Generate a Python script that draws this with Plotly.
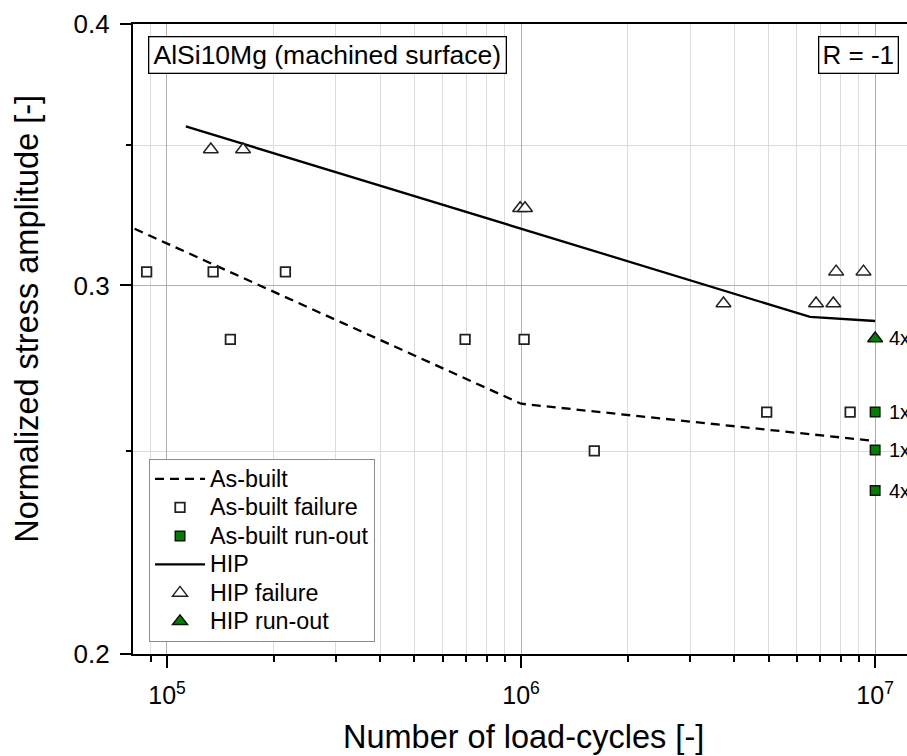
import math
import plotly.graph_objects as go

FONT = "Liberation Sans, Arial, sans-serif"

# ---- data ----
asbuilt_curve_n = [8.1e4, 1.0e6, 1.0e7]
asbuilt_curve_s = [0.3193, 0.2634, 0.2528]

hip_curve_n = [1.13e5, 6.55e6, 1.0e7]
hip_curve_s = [0.3574, 0.2898, 0.2885]

asbuilt_fail_n = [8.76e4, 1.35e5, 2.16e5, 1.51e5, 6.95e5, 1.02e6, 1.61e6, 4.94e6, 8.5e6]
asbuilt_fail_s = [0.3045, 0.3045, 0.3045, 0.2827, 0.2827, 0.2827, 0.2501, 0.2610, 0.2610]

asbuilt_runout_n = [1e7, 1e7, 1e7]
asbuilt_runout_s = [0.2610, 0.2503, 0.2394]
asbuilt_runout_count = ["1x", "1x", "4x"]

hip_fail_n = [1.33e5, 1.64e5, 9.94e5, 1.026e6, 3.73e6, 6.81e6, 7.62e6, 7.76e6, 9.27e6]
hip_fail_s = [0.3484, 0.3484, 0.3266, 0.3266, 0.2941, 0.2941, 0.2941, 0.3046, 0.3046]

hip_runout_n = [1e7]
hip_runout_s = [0.2830]
hip_runout_count = ["4x"]

series_names = ["As-built", "As-built failure", "As-built run-out",
                "HIP", "HIP failure", "HIP run-out"]

x_major_ticks = [1e5, 1e6, 1e7]
x_major_labels = ["10<sup>5</sup>", "10<sup>6</sup>", "10<sup>7</sup>"]
x_minor_ticks = [9e4] + [k * 1e5 for k in range(2, 10)] + [k * 1e6 for k in range(2, 10)]
y_major_ticks = [0.2, 0.3, 0.4]
y_major_labels = ["0.2", "0.3", "0.4"]
y_minor_ticks = [0.25, 0.35]

GREEN = "#008000"


def legend_name(s):
    # legend text drawn at the reference size while keeping compact row spacing
    return '<span style="font-size:23.3px">' + s + '</span>'


fig = go.Figure()
fig.add_trace(go.Scatter(x=asbuilt_curve_n, y=asbuilt_curve_s, mode="lines",
                         name=legend_name(series_names[0]),
                         line=dict(color="black", width=2.3, dash="9px,6px")))
fig.add_trace(go.Scatter(x=asbuilt_fail_n, y=asbuilt_fail_s, mode="markers",
                         name=legend_name(series_names[1]),
                         marker=dict(symbol="square", size=9.5, color="white",
                                     line=dict(color="#222222", width=1.8))))
fig.add_trace(go.Scatter(x=asbuilt_runout_n, y=asbuilt_runout_s, mode="markers",
                         name=legend_name(series_names[2]),
                         marker=dict(symbol="square", size=9.5, color=GREEN,
                                     line=dict(color="#111111", width=1.5))))
fig.add_trace(go.Scatter(x=hip_curve_n, y=hip_curve_s, mode="lines",
                         name=legend_name(series_names[3]),
                         line=dict(color="black", width=2.3)))
fig.add_trace(go.Scatter(x=hip_fail_n, y=hip_fail_s, mode="markers",
                         name=legend_name(series_names[4]),
                         marker=dict(symbol="triangle-up", size=13, color="white",
                                     line=dict(color="#222222", width=1.5))))
fig.add_trace(go.Scatter(x=hip_runout_n, y=hip_runout_s, mode="markers",
                         name=legend_name(series_names[5]),
                         marker=dict(symbol="triangle-up", size=13, color=GREEN,
                                     line=dict(color="#111111", width=1.5))))

annotations = []
for n, s, t in zip(asbuilt_runout_n + hip_runout_n, asbuilt_runout_s + hip_runout_s,
                   asbuilt_runout_count + hip_runout_count):
    annotations.append(dict(x=math.log10(n), y=math.log10(s), xref="x", yref="y", text=t,
                            showarrow=False, xanchor="left", yanchor="middle", xshift=12,
                            font=dict(family=FONT, size=20, color="black")))

annotations.append(dict(x=0.0198, y=0.981, xref="paper", yref="paper",
                        text="AlSi10Mg (machined surface)", showarrow=False,
                        xanchor="left", yanchor="top", bgcolor="white",
                        bordercolor="black", borderwidth=1.3, borderpad=1,
                        width=354, height=33,
                        font=dict(family=FONT, size=26.5, color="black")))
annotations.append(dict(x=0.990, y=0.981, xref="paper", yref="paper",
                        text="R = -1", showarrow=False,
                        xanchor="right", yanchor="top", bgcolor="white",
                        bordercolor="black", borderwidth=1.3, borderpad=1,
                        width=76, height=33,
                        font=dict(family=FONT, size=26, color="black")))
annotations.append(dict(x=0.505, y=-0.131, xref="paper", yref="paper",
                        text="Number of load-cycles [-]", showarrow=False,
                        xanchor="center", yanchor="middle",
                        font=dict(family=FONT, size=32.5, color="black")))
annotations.append(dict(x=-0.137, y=0.532, xref="paper", yref="paper",
                        text="Normalized stress amplitude [-]", showarrow=False,
                        textangle=-90, xanchor="center", yanchor="middle",
                        font=dict(family=FONT, size=32.5, color="black")))

fig.update_layout(
    width=907, height=756,
    margin=dict(l=133, r=0, t=24, b=102),
    paper_bgcolor="white", plot_bgcolor="white",
    font=dict(family=FONT, color="black"),
    annotations=annotations,
    showlegend=True,
    legend=dict(x=0.0207, y=0.0195, xanchor="left", yanchor="bottom",
                bgcolor="white", bordercolor="#8c8c8c", borderwidth=1,
                font=dict(family=FONT, size=19.6, color="black"),
                itemwidth=50, tracegroupgap=0),
)

fig.update_xaxes(
    type="log", range=[4.904, 7.090],
    tickmode="array", tickvals=x_major_ticks, ticktext=x_major_labels,
    ticks="outside", ticklen=12, tickwidth=2, tickcolor="black",
    tickfont=dict(family=FONT, size=25, color="black"),
    ticklabelstandoff=6,
    showline=True, linewidth=2.2, linecolor="black", mirror=True,
    showgrid=True, gridcolor="#b0b0b0", gridwidth=1.2,
    minor=dict(tickmode="array", tickvals=x_minor_ticks, ticks="outside", ticklen=6,
               tickwidth=1.5, tickcolor="black", showgrid=True, gridcolor="#dcdcdc", gridwidth=1),
    zeroline=False,
)
fig.update_yaxes(
    type="log", range=[math.log10(0.2), math.log10(0.4)],
    tickmode="array", tickvals=y_major_ticks, ticktext=y_major_labels,
    ticks="outside", ticklen=11, tickwidth=2, tickcolor="black",
    tickfont=dict(family=FONT, size=26, color="black"),
    ticklabelstandoff=5,
    showline=True, linewidth=2.2, linecolor="black", mirror=False,
    showgrid=True, gridcolor="#b0b0b0", gridwidth=1.2,
    minor=dict(tickmode="array", tickvals=y_minor_ticks, ticks="outside", ticklen=5,
               tickwidth=1.5, tickcolor="black", showgrid=True, gridcolor="#dcdcdc", gridwidth=1),
    zeroline=False,
)

fig.write_html("out.html")
